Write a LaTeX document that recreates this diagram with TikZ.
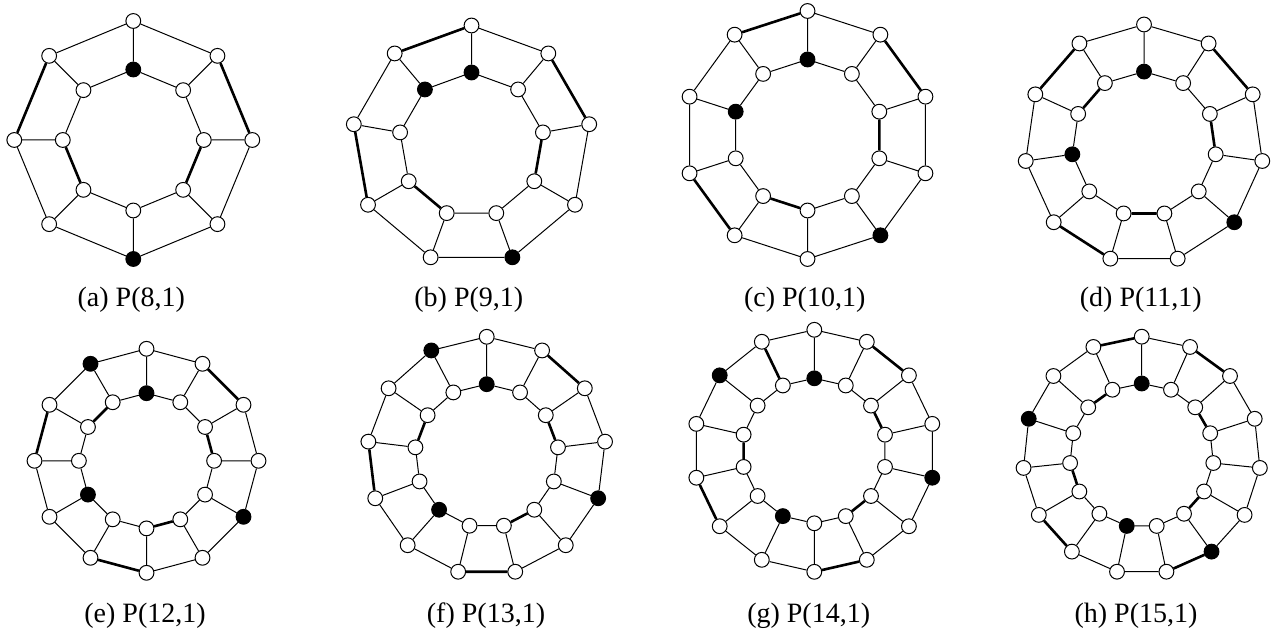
\documentclass[tikz,border=0pt]{standalone}
\usepackage{fontspec}
\setmainfont{Liberation Serif}
\tikzset{
  vtx/.style={circle, draw, fill=white, line width=0.5pt, minimum size=7.4pt, inner sep=0pt},
  edge/.style={line width=0.5pt},
  thk/.style={line width=1.3pt},
  lbl/.style={anchor=base, font=\fontsize{14}{16}\selectfont},
  blk/.style={fill=black},
  % black vertices
  pg-av0/.style={blk}, pg-au4/.style={blk},
  pg-bv0/.style={blk}, pg-bv8/.style={blk}, pg-bu4/.style={blk},
  pg-cv0/.style={blk}, pg-cv8/.style={blk}, pg-cu4/.style={blk},
  pg-dv0/.style={blk}, pg-dv8/.style={blk}, pg-du4/.style={blk},
  pg-ev0/.style={blk}, pg-ev8/.style={blk}, pg-eu4/.style={blk}, pg-eu11/.style={blk},
  pg-fv0/.style={blk}, pg-fv8/.style={blk}, pg-fu4/.style={blk}, pg-fu12/.style={blk},
  pg-gv0/.style={blk}, pg-gv8/.style={blk}, pg-gu4/.style={blk}, pg-gu12/.style={blk},
  pg-hv0/.style={blk}, pg-hv8/.style={blk}, pg-hu6/.style={blk}, pg-hu12/.style={blk},
}
% #1 prefix, #2 n, #3 cx, #4 cy, #5 outer radius, #6 inner radius
\newcommand\PGraph[6]{%
  \pgfmathtruncatemacro\PGlast{#2-1}%
  \foreach \i in {0,...,\PGlast}{%
    \pgfmathsetmacro\PGang{-90+360*\i/#2}%
    \pgfmathsetmacro\PGux{#3+#5*cos(\PGang)}%
    \pgfmathsetmacro\PGuy{#4+#5*sin(\PGang)}%
    \pgfmathsetmacro\PGvx{#3+#6*cos(\PGang)}%
    \pgfmathsetmacro\PGvy{#4+#6*sin(\PGang)}%
    \edef\PGtmp{\noexpand\node[vtx,pg-#1u\i/.try] (#1u\i) at (\PGux,\PGuy) {};
      \noexpand\node[vtx,pg-#1v\i/.try] (#1v\i) at (\PGvx,\PGvy) {};}%
    \PGtmp
  }%
  \foreach \i in {0,...,\PGlast}{%
    \pgfmathtruncatemacro\PGj{mod(\i+1,#2)}%
    \draw[edge] (#1u\i) -- (#1u\PGj) (#1v\i) -- (#1v\PGj) (#1u\i) -- (#1v\i);
  }%
}
\begin{document}
\begin{tikzpicture}[x=0.5pt,y=-0.5pt]
\useasboundingbox (0,0) rectangle (1278,635);

% (a) P(8,1)
\PGraph{a}{8}{133.3}{140}{119}{70.5}
\draw[thk] (au1) -- (au2) (au6) -- (au7) (av2) -- (av3) (av5) -- (av6);
\node[lbl] (la) at (131.3,307) {(a) P(8,1)};

% (b) P(9,1)
\PGraph{b}{9}{471.5}{145}{119.5}{72.5}
\draw[thk] (bu8) -- (bu0) (bu1) -- (bu2) (bu6) -- (bu7) (bv2) -- (bv3) (bv5) -- (bv6);
\node[lbl] (lb) at (468.8,307) {(b) P(9,1)};

% (c) P(10,1)
\PGraph{c}{10}{807.5}{135}{124}{75.5}
\draw[thk] (cu9) -- (cu0) (cu1) -- (cu2) (cu6) -- (cu7) (cv2) -- (cv3) (cv5) -- (cv6);
\node[lbl] (lc) at (804.7,307) {(c) P(10,1)};

% (d) P(11,1)
\PGraph{d}{11}{1144}{144}{119.5}{72.4}
\draw[thk] (du1) -- (du2) (dv2) -- (dv3) (dv5) -- (dv6) (du6) -- (du7) (du9) -- (du10) (dv9) -- (dv10);
\node[lbl] (ld) at (1140.8,307) {(d) P(11,1)};

% (e) P(12,1)
\PGraph{e}{12}{146.5}{460.8}{112}{67.6}
\draw[thk] (eu1) -- (eu2) (ev2) -- (ev3) (ev5) -- (ev6) (eu6) -- (eu7) (eu9) -- (eu10) (ev10) -- (ev11);
\node[lbl] (le) at (145,622) {(e) P(12,1)};

% (f) P(13,1)
\PGraph{f}{13}{486.7}{456}{119.2}{71.8}
\draw[thk] (fu1) -- (fu2) (fv2) -- (fv3) (fv5) -- (fv6) (fu6) -- (fu7) (fu9) -- (fu10) (fv10) -- (fv11);
\node[lbl] (lf) at (486,622) {(f) P(13,1)};

% (g) P(14,1)
\PGraph{g}{14}{814.3}{450.8}{121}{72.5}
\draw[thk] (gu1) -- (gu2) (gv2) -- (gv3) (gv5) -- (gv6) (gu6) -- (gu7) (gu9) -- (gu10) (gv10) -- (gv11) (gu13) -- (gv13);
\node[lbl] (lg) at (808.7,622) {(g) P(14,1)};

% (h) P(15,1)
\PGraph{h}{15}{1141.7}{455.5}{118.8}{72}
\draw[thk] (hu14) -- (hu0) (hu1) -- (hu2) (hv2) -- (hv3) (hv5) -- (hv6) (hu6) -- (hu7) (hu9) -- (hu10) (hv10) -- (hv11) (hv13) -- (hv14);
\node[lbl] (lh) at (1136,622) {(h) P(15,1)};
\end{tikzpicture}
\end{document}
